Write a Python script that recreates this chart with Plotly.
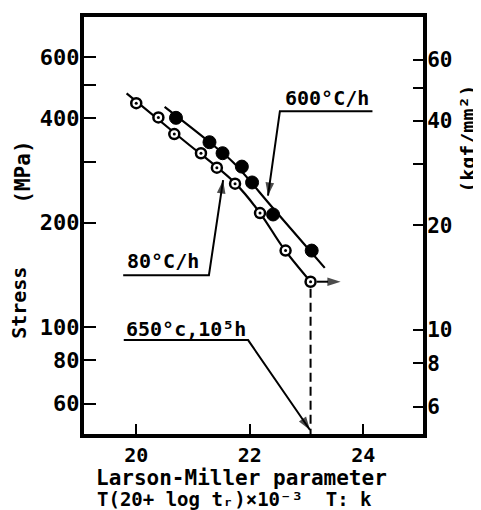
import numpy as np
import plotly.graph_objects as go

KGF = 9.80665  # MPa per kgf/mm^2

# 80 °C/h (open circles with dot)
lmp_80 = [20.00, 20.39, 20.67, 21.14, 21.42, 21.74, 22.18, 22.63, 23.07]
stress_80 = [442, 402, 360, 317, 288, 259, 213, 166, 135]
# 600 °C/h (filled circles)
lmp_600 = [20.70, 21.29, 21.52, 21.86, 22.04, 22.41, 23.09]
stress_600 = [401, 341, 317, 290, 261, 211, 166]

# fitted curves
fit80_x = [19.83, 20.80, 21.75, 22.18, 22.60, 23.07]
fit80_y = [472, 349, 259, 213, 168, 135]
fit600_x = [20.50, 21.29, 21.71, 22.41, 23.32]
fit600_y = [431, 341, 298, 220, 148]

runout_x_end = 23.60
y_bottom = 49.1

mpa_ticks = [60, 80, 100, 200, 300, 400, 500, 600]
mpa_text = ["60", "80", "100", "200", "", "400", "", "600"]
kgf_ticks = [6, 8, 10, 20, 30, 40, 50, 60]
kgf_text = ["6", "8", "10", "20", "", "40", "", "60"]
x_ticks = [20, 22, 24]

# label leaders: underline from x0 to x1 at stress y, then line to tip (tx, ty)
lead_600 = dict(x0=24.16, x1=22.53, y=419, tx=22.32, ty=239, label="600°C/h", lx=23.36, ly=457)
lead_80 = dict(x0=19.77, x1=21.28, y=141, tx=21.53, ty=265, label="80°C/h", lx=20.47, ly=155)
lead_650 = dict(x0=19.78, x1=21.97, y=91.6, tx=23.06, ty=50.4, label="650°c,10⁵h", lx=20.87, ly=98.6)

yr = [1.691, 2.894]
FONT = "DejaVu Sans Mono"

fig = go.Figure()

line_style = dict(color="black", width=2.2)
fig.add_trace(go.Scatter(x=fit80_x, y=fit80_y, mode="lines", line=dict(shape="spline", **line_style)))
fig.add_trace(go.Scatter(x=fit600_x, y=fit600_y, mode="lines", line=dict(shape="spline", **line_style)))

# dashed line from last 80 °C/h point down to the axis
fig.add_trace(go.Scatter(x=[lmp_80[-1], lmp_80[-1]], y=[stress_80[-1] * 0.955, y_bottom],
                         mode="lines", line=dict(color="black", width=2, dash="9px,5px")))

# leader lines with arrowheads
for L in (lead_600, lead_80, lead_650):
    fig.add_trace(go.Scatter(
        x=[L["x0"], L["x1"], L["tx"]], y=[L["y"], L["y"], L["ty"]], mode="lines+markers",
        line=dict(color="black", width=2),
        marker=dict(symbol=["circle", "circle", "arrow"], size=[0, 0, 14], color="black",
                    angleref="previous", line=dict(width=0))))

# runout arrow for the last 80 °C/h point
fig.add_trace(go.Scatter(
    x=[lmp_80[-1] + 0.11, runout_x_end], y=[stress_80[-1], stress_80[-1]], mode="lines+markers",
    line=dict(color="black", width=2),
    marker=dict(symbol=["circle", "arrow"], size=[0, 14], color="black",
                angleref="previous", line=dict(width=0))))

fig.add_trace(go.Scatter(x=lmp_600, y=stress_600, mode="markers",
                         marker=dict(size=13, color="black", line=dict(color="black", width=1))))
fig.add_trace(go.Scatter(x=lmp_80, y=stress_80, mode="markers",
                         marker=dict(size=10, color="white", line=dict(color="black", width=2.5))))
fig.add_trace(go.Scatter(x=lmp_80, y=stress_80, mode="markers",
                         marker=dict(size=3, color="black")))

# invisible trace for the right axis
fig.add_trace(go.Scatter(x=[], y=[], yaxis="y2"))

tf = dict(family=FONT, color="black", weight="bold")
ann = []
for L in (lead_600, lead_80, lead_650):
    ann.append(dict(x=L["lx"], y=np.log10(L["ly"]), xref="x", yref="y",
                    text=L["label"], showarrow=False, xanchor="center", yanchor="middle",
                    font=dict(size=20, **tf)))

ann += [
    dict(text="Stress", x=-0.19, y=0.3135, xref="paper", yref="paper", textangle=-90,
         showarrow=False, xanchor="center", yanchor="middle", font=dict(size=20, **tf)),
    dict(text="(MPa)", x=-0.18, y=0.629, xref="paper", yref="paper", textangle=-90,
         showarrow=False, xanchor="center", yanchor="middle", font=dict(size=21, **tf)),
    dict(text="(kgf/mm²)", x=1.133, y=0.708, xref="paper", yref="paper", textangle=-90,
         showarrow=False, xanchor="center", yanchor="middle", font=dict(size=20, **tf)),
    dict(text="Larson-Miller parameter", x=0.466, y=-0.1045, xref="paper", yref="paper",
         showarrow=False, xanchor="center", yanchor="middle", font=dict(size=21, **tf)),
    dict(text="T(20+ log tᵣ)×10⁻³  T: k", x=0.445, y=-0.157, xref="paper",
         yref="paper", showarrow=False, xanchor="center", yanchor="middle", font=dict(size=19, **tf)),
]

axis_common = dict(showline=True, linewidth=4, linecolor="black", showgrid=False, zeroline=False,
                   ticks="inside", tickwidth=2, tickcolor="black")

# page body has an 8px margin: shrink the figure so the plot area lands where the reference has it
fig.update_layout(
    width=473, height=502,
    margin=dict(l=76, r=58, t=5, b=76),
    plot_bgcolor="white", paper_bgcolor="white",
    showlegend=False,
    font=dict(family=FONT, size=20, color="black"),
    xaxis=dict(range=[19.08, 25.05], tickvals=x_ticks, ticklen=10, mirror=True,
               tickfont=dict(size=20, **tf), **axis_common),
    yaxis=dict(type="log", range=yr, tickvals=mpa_ticks, ticktext=mpa_text, ticklen=12,
               mirror=True, ticklabelstandoff=-4, tickfont=dict(size=22, **tf), **axis_common),
    yaxis2=dict(type="log", overlaying="y", side="right",
                range=[yr[0] - np.log10(KGF), yr[1] - np.log10(KGF)],
                tickvals=kgf_ticks, ticktext=kgf_text, ticklen=10, ticklabelstandoff=-4,
                tickfont=dict(size=21, **tf), **axis_common),
    annotations=ann,
)

fig.write_html("out.html")
